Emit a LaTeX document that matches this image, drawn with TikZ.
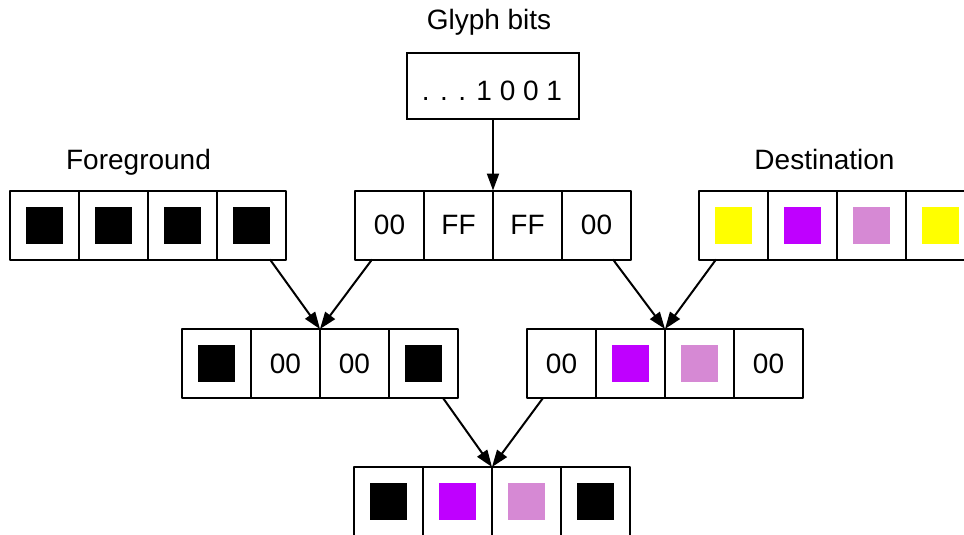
\documentclass[tikz,border=0pt]{standalone}
\usepackage{fontspec}
\setmainfont{Liberation Sans}
\usetikzlibrary{arrows.meta,calc}
\definecolor{cyel}{RGB}{255,255,0}
\definecolor{cpur}{RGB}{191,0,255}
\definecolor{cpnk}{RGB}{214,137,212}
\definecolor{cblk}{RGB}{0,0,0}
\newcommand{\sq}[1]{{\color{#1}\rule{37pt}{37pt}}}
\newcommand{\tx}[1]{\raisebox{-2pt}{#1}}
\begin{document}
\begin{tikzpicture}[x=1pt,y=-1pt,
  every node/.style={font=\fontsize{28}{34}\selectfont},
  cell/.style={draw,line width=2pt,minimum width=69pt,minimum height=69pt,inner sep=0pt,outer sep=0pt,anchor=north west,line join=round},
  lbl/.style={inner sep=0pt,anchor=base},
  conn/.style={line width=2pt,-{Triangle[length=17pt,width=12pt]}}]
\useasboundingbox (0,0) rectangle (964,535);
% Glyph bits
\node[lbl] (glabel) at (489,30) {Glyph bits};
\node[draw,line width=2pt,minimum width=172pt,minimum height=66pt,inner sep=0pt,outer sep=0pt,anchor=north west] (glyph) at (407,53) {};
\node[lbl] (gtext) at (492,100) {. . . 1 0 0 1};
% labels
\node[lbl] (fglabel) at (138.5,169) {Foreground};
\node[lbl] (dstlabel) at (824.5,169) {Destination};
% Foreground row
\node[cell] (fg1) at (10,190.5) {\sq{cblk}};
\node[cell] (fg2) at (79,190.5) {\sq{cblk}};
\node[cell] (fg3) at (148,190.5) {\sq{cblk}};
\node[cell] (fg4) at (217,190.5) {\sq{cblk}};
% Mask row
\node[cell] (mk1) at (355,190.5) {\tx{00}};
\node[cell] (mk2) at (424,190.5) {\tx{FF}};
\node[cell] (mk3) at (493,190.5) {\tx{FF}};
\node[cell] (mk4) at (562,190.5) {\tx{00}};
% Destination row
\node[cell] (ds1) at (699,190.5) {\sq{cyel}};
\node[cell] (ds2) at (768,190.5) {\sq{cpur}};
\node[cell] (ds3) at (837,190.5) {\sq{cpnk}};
\node[cell] (ds4) at (906,190.5) {\sq{cyel}};
% Second row left
\node[cell] (la1) at (182,329) {\sq{cblk}};
\node[cell] (la2) at (251,329) {\tx{00}};
\node[cell] (la3) at (320,329) {\tx{00}};
\node[cell] (la4) at (389,329) {\sq{cblk}};
% Second row right
\node[cell] (ra1) at (527,329) {\tx{00}};
\node[cell] (ra2) at (596,329) {\sq{cpur}};
\node[cell] (ra3) at (665,329) {\sq{cpnk}};
\node[cell] (ra4) at (734,329) {\tx{00}};
% Result row
\node[cell] (rs1) at (354,467) {\sq{cblk}};
\node[cell] (rs2) at (423,467) {\sq{cpur}};
\node[cell] (rs3) at (492,467) {\sq{cpnk}};
\node[cell] (rs4) at (561,467) {\sq{cblk}};
% connectors
\draw[conn] (glyph.south) -- (mk3.north west);
\draw[conn] ($(fg4.south east)+(-16,0)$) -- (la3.north west);
\draw[conn] ($(mk1.south west)+(17,0)$) -- (la3.north west);
\draw[conn] ($(mk4.south east)+(-18,0)$) -- (ra3.north west);
\draw[conn] ($(ds1.south west)+(17,0)$) -- (ra3.north west);
\draw[conn] ($(la4.south east)+(-15,0)$) -- (rs3.north west);
\draw[conn] ($(ra1.south west)+(16,0)$) -- (rs3.north west);
\end{tikzpicture}
\end{document}
